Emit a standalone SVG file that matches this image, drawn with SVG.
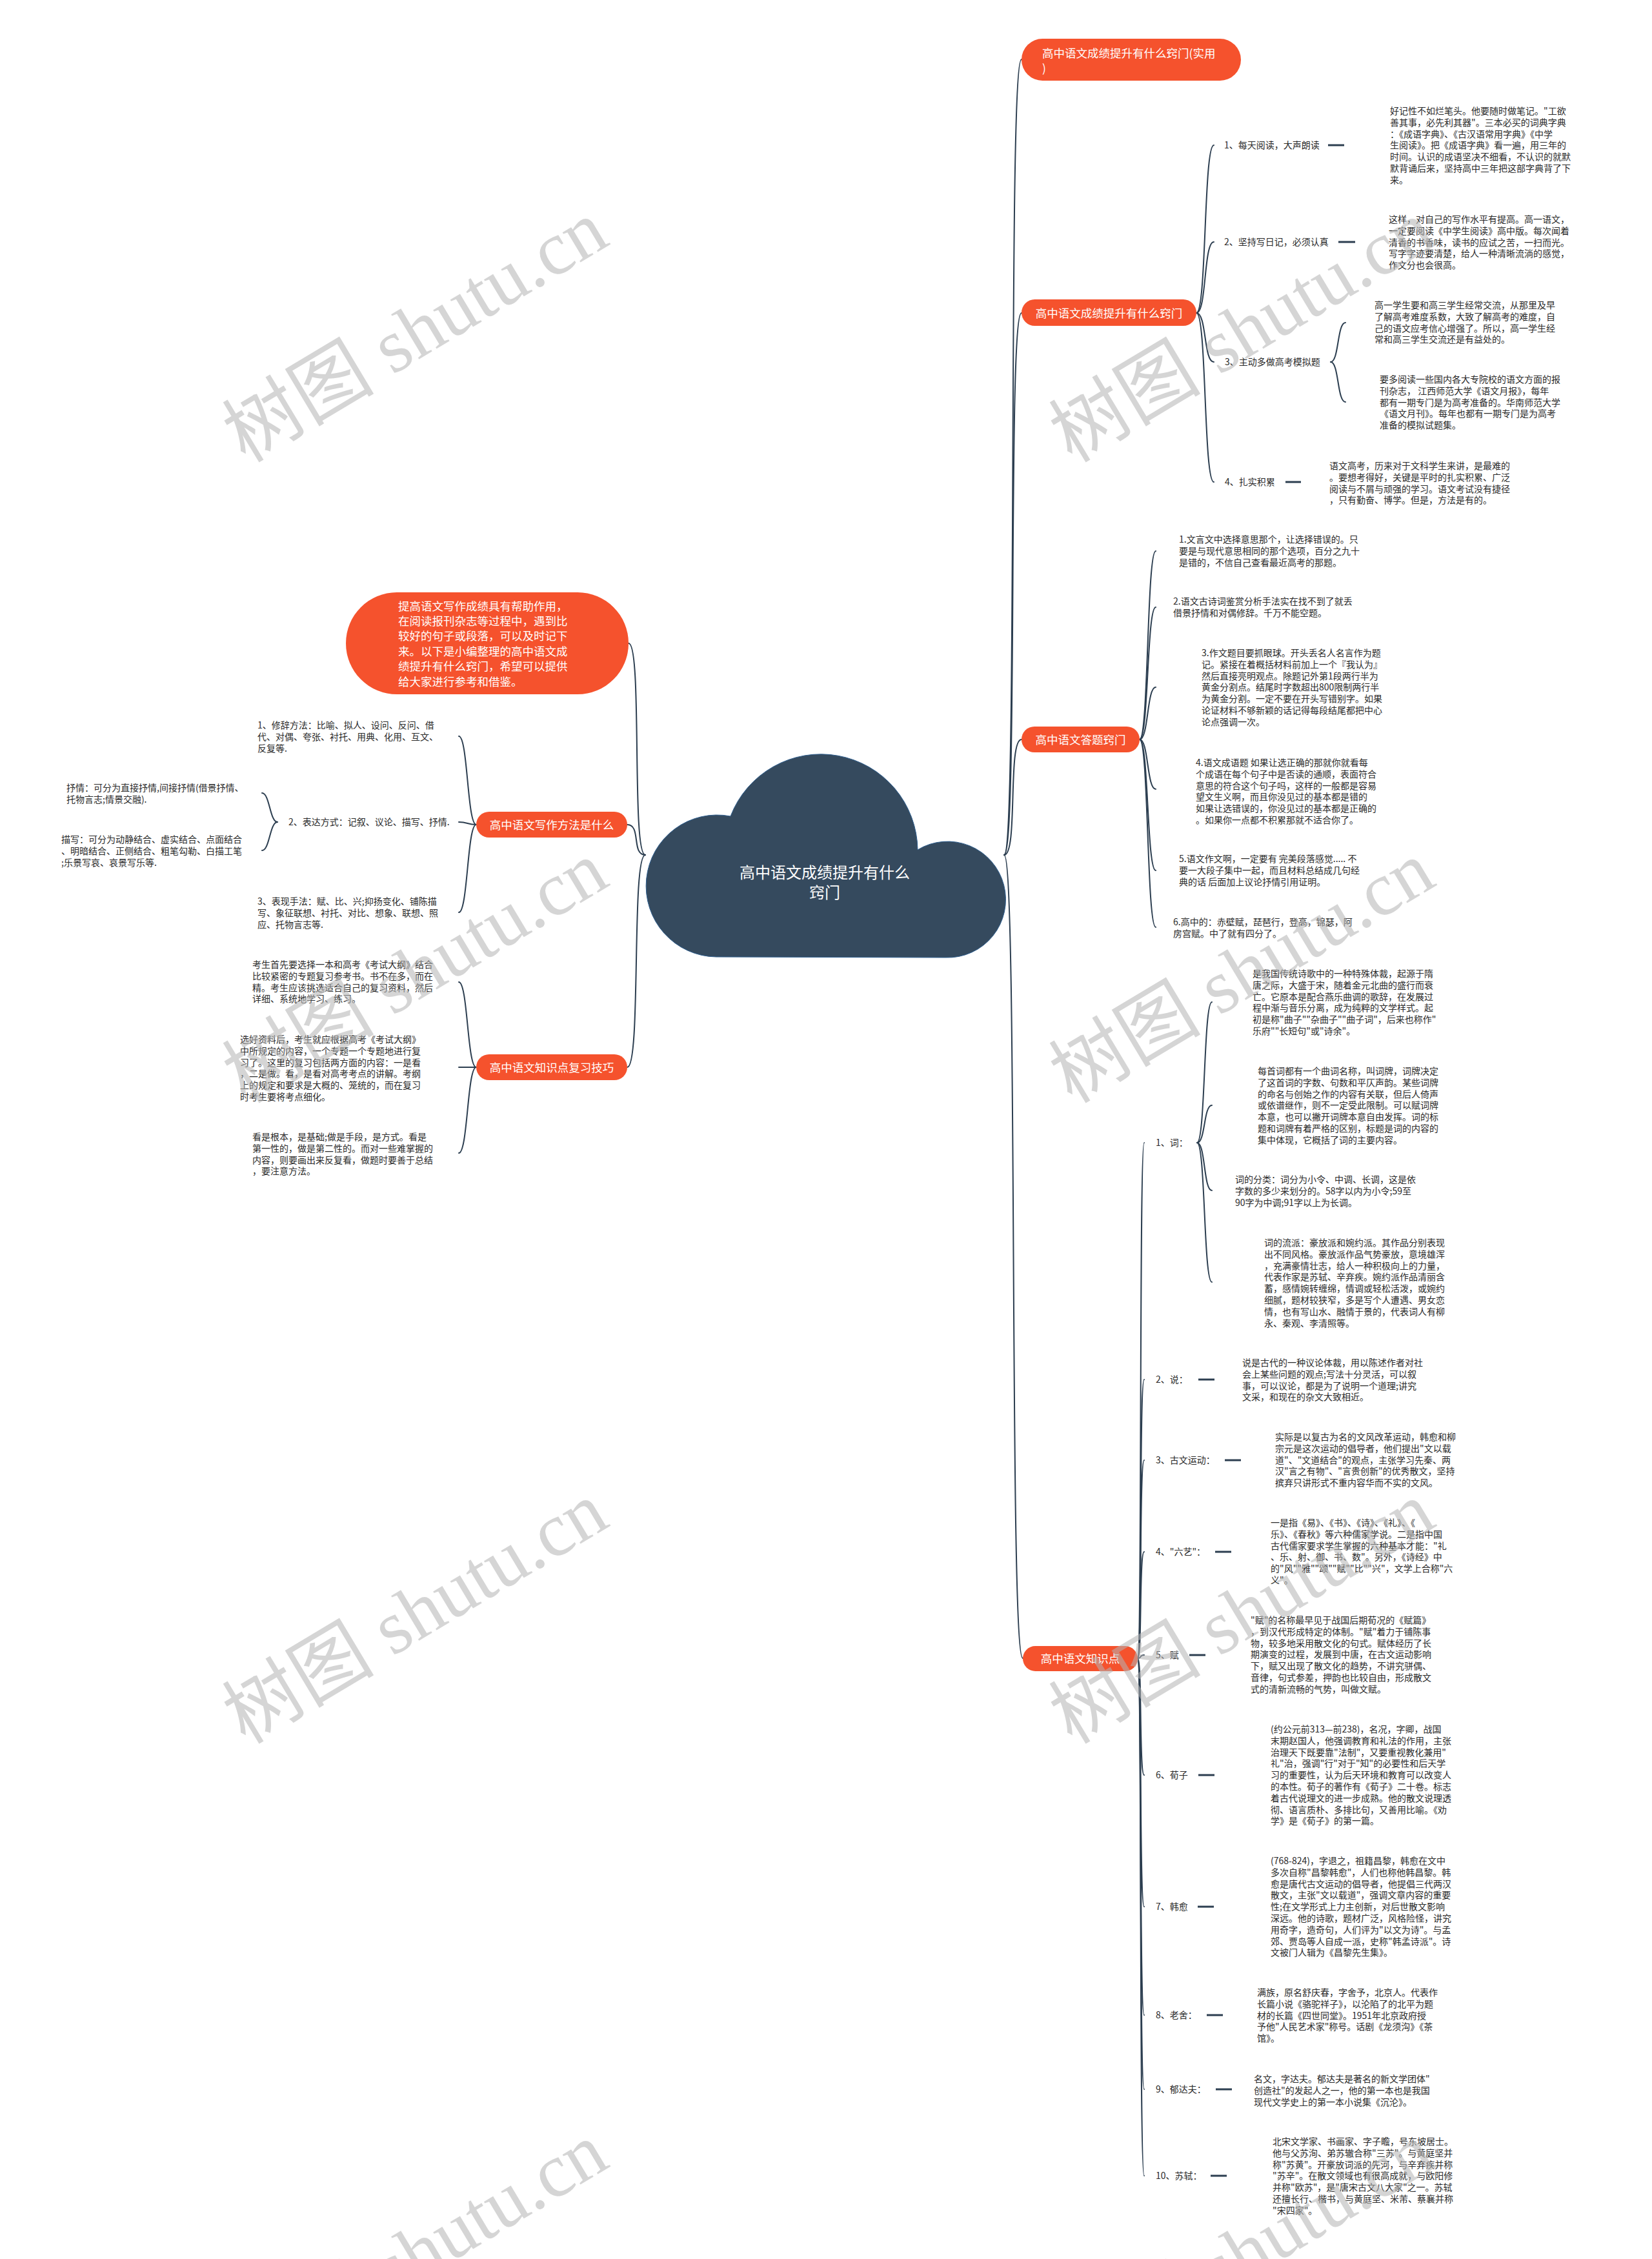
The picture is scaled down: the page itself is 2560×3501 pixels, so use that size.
<svg xmlns="http://www.w3.org/2000/svg" width="2560" height="3501" viewBox="0 0 2560 3501">
<style>
.t{font-family:"Noto Sans CJK SC","Noto Sans",sans-serif;font-size:14px;fill:#2a2a2a}
.nt{font-family:"Noto Sans CJK SC","Noto Sans",sans-serif;font-size:17.5px;fill:#ffffff}
.ct{font-family:"Noto Sans CJK SC","Noto Sans",sans-serif;font-size:24px;fill:#ffffff}
.node{fill:#f5522d}
.link{fill:none;stroke:#2c3e50;stroke-width:2;stroke-linecap:round}
.dash{stroke:#2c3e50;stroke-width:3}
.wm{font-family:"Liberation Serif","Noto Sans CJK SC",serif;font-size:118px;fill:#b4b4b4;opacity:0.55}
</style>
<rect x="0" y="0" width="2560" height="3501" fill="#ffffff"/>

<g id="connectors">
<!-- cloud to right branches -->
<path class="link" d="M1556 1325 C1578 1325 1561 92 1583 92"/>
<path class="link" d="M1556 1325 C1578 1325 1561 485 1583 485"/>
<path class="link" d="M1556 1325 C1578 1325 1561 1146 1583 1146"/>
<path class="link" d="M1556 1325 C1578 1325 1563 2570 1585 2570"/>
<!-- cloud to left branches -->
<path class="link" d="M1000 1325 C978 1325 996 997 974 997"/>
<path class="link" d="M1000 1325 C978 1325 994 1278 972 1278"/>
<path class="link" d="M1000 1325 C978 1325 994 1654 972 1654"/>
<!-- branch B -->
<path class="link" d="M1854 485 C1870 485 1865 225 1881 225"/>
<path class="link" d="M1854 485 C1870 485 1865 375 1881 375"/>
<path class="link" d="M1854 485 C1870 485 1865 561 1881 561"/>
<path class="link" d="M1854 485 C1870 485 1865 747 1881 747"/>
<line class="dash" x1="2058" y1="225" x2="2083" y2="225"/>
<line class="dash" x1="2074" y1="375" x2="2100" y2="375"/>
<path class="link" d="M2062 561 C2075 561 2072 500 2085 500"/>
<path class="link" d="M2062 561 C2075 561 2072 623 2085 623"/>
<line class="dash" x1="1992" y1="747" x2="2016" y2="747"/>
<!-- branch C -->
<path class="link" d="M1766 1146 C1780 1146 1777 854 1791 854"/>
<path class="link" d="M1766 1146 C1780 1146 1777 941 1791 941"/>
<path class="link" d="M1766 1146 C1780 1146 1777 1065 1791 1065"/>
<path class="link" d="M1766 1146 C1780 1146 1777 1223 1791 1223"/>
<path class="link" d="M1766 1146 C1780 1146 1777 1349 1791 1349"/>
<path class="link" d="M1766 1146 C1780 1146 1777 1437 1791 1437"/>
<!-- branch D -->
<path class="link" d="M1763 2570 C1770 2570 1765 1771 1773 1771"/>
<path class="link" d="M1763 2570 C1770 2570 1765 2138 1773 2138"/>
<path class="link" d="M1763 2570 C1770 2570 1765 2263 1773 2263"/>
<path class="link" d="M1763 2570 C1770 2570 1765 2405 1773 2405"/>
<path class="link" d="M1763 2570 C1770 2570 1765 2565 1773 2565"/>
<path class="link" d="M1763 2570 C1770 2570 1765 2751 1773 2751"/>
<path class="link" d="M1763 2570 C1770 2570 1765 2955 1773 2955"/>
<path class="link" d="M1763 2570 C1770 2570 1765 3123 1773 3123"/>
<path class="link" d="M1763 2570 C1770 2570 1765 3238 1773 3238"/>
<path class="link" d="M1763 2570 C1770 2570 1765 3372 1773 3372"/>
<path class="link" d="M1855 1771 C1868 1771 1865 1553 1878 1553"/>
<path class="link" d="M1855 1771 C1868 1771 1865 1713 1878 1713"/>
<path class="link" d="M1855 1771 C1868 1771 1865 1845 1878 1845"/>
<path class="link" d="M1855 1771 C1868 1771 1865 1987 1878 1987"/>
<line class="dash" x1="1857" y1="2138" x2="1882" y2="2138"/>
<line class="dash" x1="1898" y1="2263" x2="1923" y2="2263"/>
<line class="dash" x1="1883" y1="2405" x2="1908" y2="2405"/>
<line class="dash" x1="1843" y1="2565" x2="1868" y2="2565"/>
<line class="dash" x1="1857" y1="2751" x2="1882" y2="2751"/>
<line class="dash" x1="1856" y1="2955" x2="1881" y2="2955"/>
<line class="dash" x1="1870" y1="3123" x2="1895" y2="3123"/>
<line class="dash" x1="1884" y1="3238" x2="1909" y2="3238"/>
<line class="dash" x1="1876" y1="3372" x2="1901" y2="3372"/>
<!-- branch E -->
<path class="link" d="M738 1278 C724 1278 725 1141 711 1141"/>
<path class="link" d="M738 1278 C724 1278 725 1274 711 1274"/>
<path class="link" d="M738 1278 C724 1278 725 1414 711 1414"/>
<path class="link" d="M430 1274 C418 1274 418 1229 406 1229"/>
<path class="link" d="M430 1274 C418 1274 418 1318 406 1318"/>
<!-- branch F -->
<path class="link" d="M738 1654 C724 1654 725 1522 711 1522"/>
<path class="link" d="M738 1654 C724 1654 725 1654 711 1654"/>
<path class="link" d="M738 1654 C724 1654 725 1787 711 1787"/>
</g>

<g id="root">
<path d="M1110 1483 A110 110 0 1 1 1132 1265 A150 150 0 0 1 1422 1317 A90 90 0 1 1 1465 1484 Z" fill="#354a5e" stroke="#2f5f8f" stroke-width="1"/>
<text class="ct" text-anchor="middle"><tspan x="1278" y="1361">高中语文成绩提升有什么</tspan><tspan x="1278" y="1392">窍门</tspan></text>
</g>

<g id="intro">
<rect class="node" x="536" y="918" width="438" height="158" rx="79"/>
<text class="nt"><tspan x="617" y="945.5">提高语文写作成绩具有帮助作用，</tspan><tspan x="617" y="968.9">在阅读报刊杂志等过程中，遇到比</tspan><tspan x="617" y="992.3">较好的句子或段落，可以及时记下</tspan><tspan x="617" y="1015.7">来。以下是小编整理的高中语文成</tspan><tspan x="617" y="1039.1">绩提升有什么窍门，希望可以提供</tspan><tspan x="617" y="1062.5">给大家进行参考和借鉴。</tspan></text>
</g>

<g id="node-a">
<rect class="node" x="1583" y="60" width="340" height="65" rx="32.5"/>
<text class="nt"><tspan x="1615" y="88.5">高中语文成绩提升有什么窍门(实用</tspan><tspan x="1615" y="111.5">)</tspan></text>
</g>

<g id="node-b">
<rect class="node" x="1583" y="464" width="271" height="41" rx="20.5"/>
<text class="nt" x="1718.5" y="491.5" text-anchor="middle">高中语文成绩提升有什么窍门</text>
</g>
<g id="b1">
<text class="t" x="1897" y="230">1、每天阅读，大声朗读</text>
<text class="t"><tspan x="2154" y="177">好记性不如烂笔头。他要随时做笔记。"工欲</tspan><tspan x="2154" y="194.8">善其事，必先利其器"。三本必买的词典字典</tspan><tspan x="2154" y="212.6">：《成语字典》、《古汉语常用字典》《中学</tspan><tspan x="2154" y="230.4">生阅读》。把《成语字典》看一遍，用三年的</tspan><tspan x="2154" y="248.2">时间。认识的成语坚决不细看，不认识的就默</tspan><tspan x="2154" y="266">默背诵后来，坚持高中三年把这部字典背了下</tspan><tspan x="2154" y="283.8">来。</tspan></text>
</g>
<g id="b2">
<text class="t" x="1897" y="380">2、坚持写日记，必须认真</text>
<text class="t"><tspan x="2152" y="345">这样，对自己的写作水平有提高。高一语文，</tspan><tspan x="2152" y="362.8">一定要阅读《中学生阅读》高中版。每次闻着</tspan><tspan x="2152" y="380.6">清香的书香味，读书的应试之苦，一扫而光。</tspan><tspan x="2152" y="398.4">写字字迹要清楚，给人一种清晰流淌的感觉，</tspan><tspan x="2152" y="416.2">作文分也会很高。</tspan></text>
</g>
<g id="b3">
<text class="t" x="1898" y="566">3、主动多做高考模拟题</text>
<text class="t"><tspan x="2130" y="478">高一学生要和高三学生经常交流，从那里及早</tspan><tspan x="2130" y="495.8">了解高考难度系数，大致了解高考的难度，自</tspan><tspan x="2130" y="513.6">己的语文应考信心增强了。所以，高一学生经</tspan><tspan x="2130" y="531.4">常和高三学生交流还是有益处的。</tspan></text>
<text class="t"><tspan x="2138" y="593">要多阅读一些国内各大专院校的语文方面的报</tspan><tspan x="2138" y="610.8">刊杂志， 江西师范大学《语文月报》，每年</tspan><tspan x="2138" y="628.6">都有一期专门是为高考准备的。华南师范大学</tspan><tspan x="2138" y="646.4">《语文月刊》。每年也都有一期专门是为高考</tspan><tspan x="2138" y="664.2">准备的模拟试题集。</tspan></text>
</g>
<g id="b4">
<text class="t" x="1898" y="752">4、扎实积累</text>
<text class="t"><tspan x="2060" y="727">语文高考，历来对于文科学生来讲，是最难的</tspan><tspan x="2060" y="744.8">。要想考得好，关键是平时的扎实积累、广泛</tspan><tspan x="2060" y="762.6">阅读与不屑与顽强的学习。语文考试没有捷径</tspan><tspan x="2060" y="780.4">，只有勤奋、博学。但是，方法是有的。</tspan></text>
</g>

<g id="node-c">
<rect class="node" x="1583" y="1126" width="183" height="40" rx="20"/>
<text class="nt" x="1674.5" y="1152.5" text-anchor="middle">高中语文答题窍门</text>
</g>
<g id="c1"><text class="t"><tspan x="1827" y="841">1.文言文中选择意思那个，让选择错误的。只</tspan><tspan x="1827" y="858.8">要是与现代意思相同的那个选项，百分之九十</tspan><tspan x="1827" y="876.6">是错的，不信自己查看最近高考的那题。</tspan></text></g>
<g id="c2"><text class="t"><tspan x="1818" y="937">2.语文古诗词鉴赏分析手法实在找不到了就丢</tspan><tspan x="1818" y="954.8">借景抒情和对偶修辞。千万不能空题。</tspan></text></g>
<g id="c3"><text class="t"><tspan x="1862" y="1017">3.作文题目要抓眼球。开头丢名人名言作为题</tspan><tspan x="1862" y="1034.8">记。紧接在着概括材料前加上一个『我认为』</tspan><tspan x="1862" y="1052.6">然后直接亮明观点。除题记外第1段两行半为</tspan><tspan x="1862" y="1070.4">黄金分割点。结尾时字数超出800限制两行半</tspan><tspan x="1862" y="1088.2">为黄金分割。一定不要在开头写错别字。如果</tspan><tspan x="1862" y="1106">论证材料不够新颖的话记得每段结尾都把中心</tspan><tspan x="1862" y="1123.8">论点强调一次。</tspan></text></g>
<g id="c4"><text class="t"><tspan x="1853" y="1187">4.语文成语题 如果让选正确的那就你就看每</tspan><tspan x="1853" y="1204.8">个成语在每个句子中是否读的通顺，表面符合</tspan><tspan x="1853" y="1222.6">意思的符合这个句子吗，这样的一般都是容易</tspan><tspan x="1853" y="1240.4">望文生义啊，而且你没见过的基本都是错的</tspan><tspan x="1853" y="1258.2">如果让选错误的，你没见过的基本都是正确的</tspan><tspan x="1853" y="1276">。如果你一点都不积累那就不适合你了。</tspan></text></g>
<g id="c5"><text class="t"><tspan x="1827" y="1336">5.语文作文啊，一定要有 完美段落感觉..... 不</tspan><tspan x="1827" y="1353.8">要一大段子集中一起，而且材料总结成几句经</tspan><tspan x="1827" y="1371.6">典的话 后面加上议论抒情引用证明。</tspan></text></g>
<g id="c6"><text class="t"><tspan x="1818" y="1434">6.高中的：赤壁赋，琵琶行，登高，锦瑟，阿</tspan><tspan x="1818" y="1451.8">房宫赋。中了就有四分了。</tspan></text></g>

<g id="node-d">
<rect class="node" x="1585" y="2551" width="178" height="39" rx="19.5"/>
<text class="nt" x="1674" y="2577" text-anchor="middle">高中语文知识点</text>
</g>
<g id="d1">
<text class="t" x="1791" y="1776">1、词：</text>
<text class="t"><tspan x="1941" y="1514">是我国传统诗歌中的一种特殊体裁，起源于隋</tspan><tspan x="1941" y="1531.8">唐之际，大盛于宋，随着金元北曲的盛行而衰</tspan><tspan x="1941" y="1549.6">亡。它原本是配合燕乐曲调的歌辞，在发展过</tspan><tspan x="1941" y="1567.4">程中渐与音乐分离，成为纯粹的文学样式。起</tspan><tspan x="1941" y="1585.2">初是称"曲子""杂曲子""曲子词"，后来也称作"</tspan><tspan x="1941" y="1603">乐府""长短句"或"诗余"。</tspan></text>
<text class="t"><tspan x="1949" y="1665">每首词都有一个曲词名称，叫词牌，词牌决定</tspan><tspan x="1949" y="1682.8">了这首词的字数、句数和平仄声韵。某些词牌</tspan><tspan x="1949" y="1700.6">的命名与创始之作的内容有关联，但后人倚声</tspan><tspan x="1949" y="1718.4">或依谱继作，则不一定受此限制。可以赋词牌</tspan><tspan x="1949" y="1736.2">本意，也可以撇开词牌本意自由发挥。词的标</tspan><tspan x="1949" y="1754">题和词牌有着严格的区别，标题是词的内容的</tspan><tspan x="1949" y="1771.8">集中体现，它概括了词的主要内容。</tspan></text>
<text class="t"><tspan x="1914" y="1833">词的分类：词分为小令、中调、长调，这是依</tspan><tspan x="1914" y="1850.8">字数的多少来划分的。58字以内为小令;59至</tspan><tspan x="1914" y="1868.6">90字为中调;91字以上为长调。</tspan></text>
<text class="t"><tspan x="1959" y="1931">词的流派：豪放派和婉约派。其作品分别表现</tspan><tspan x="1959" y="1948.8">出不同风格。豪放派作品气势豪放，意境雄浑</tspan><tspan x="1959" y="1966.6">，充满豪情壮志，给人一种积极向上的力量，</tspan><tspan x="1959" y="1984.4">代表作家是苏轼、辛弃疾。婉约派作品清丽含</tspan><tspan x="1959" y="2002.2">蓄，感情婉转缠绵，情调或轻松活泼，或婉约</tspan><tspan x="1959" y="2020">细腻，题材较狭窄，多是写个人遭遇、男女恋</tspan><tspan x="1959" y="2037.8">情，也有写山水、融情于景的，代表词人有柳</tspan><tspan x="1959" y="2055.6">永、秦观、李清照等。</tspan></text>
</g>
<g id="d2">
<text class="t" x="1791" y="2143">2、说：</text>
<text class="t"><tspan x="1925" y="2117">说是古代的一种议论体裁，用以陈述作者对社</tspan><tspan x="1925" y="2134.8">会上某些问题的观点;写法十分灵活，可以叙</tspan><tspan x="1925" y="2152.6">事，可以议论，都是为了说明一个道理;讲究</tspan><tspan x="1925" y="2170.4">文采，和现在的杂文大致相近。</tspan></text>
</g>
<g id="d3">
<text class="t" x="1791" y="2268">3、古文运动：</text>
<text class="t"><tspan x="1976" y="2232">实际是以复古为名的文风改革运动，韩愈和柳</tspan><tspan x="1976" y="2249.8">宗元是这次运动的倡导者，他们提出"文以载</tspan><tspan x="1976" y="2267.6">道"、"文道结合"的观点，主张学习先秦、两</tspan><tspan x="1976" y="2285.4">汉"言之有物"、"言贵创新"的优秀散文，坚持</tspan><tspan x="1976" y="2303.2">摈弃只讲形式不重内容华而不实的文风。</tspan></text>
</g>
<g id="d4">
<text class="t" x="1791" y="2410">4、"六艺"：</text>
<text class="t"><tspan x="1969" y="2365">一是指《易》、《书》、《诗》、《礼》、《</tspan><tspan x="1969" y="2382.8">乐》、《春秋》等六种儒家学说。二是指中国</tspan><tspan x="1969" y="2400.6">古代儒家要求学生掌握的六种基本才能："礼</tspan><tspan x="1969" y="2418.4">、乐、射、御、书、数"。另外，《诗经》中</tspan><tspan x="1969" y="2436.2">的"风""雅""颂""赋""比""兴"，文学上合称"六</tspan><tspan x="1969" y="2454">义"。</tspan></text>
</g>
<g id="d5">
<text class="t" x="1791" y="2570">5、赋</text>
<text class="t"><tspan x="1938" y="2516">"赋"的名称最早见于战国后期荀况的《赋篇》</tspan><tspan x="1938" y="2533.8">，到汉代形成特定的体制。"赋"着力于铺陈事</tspan><tspan x="1938" y="2551.6">物，较多地采用散文化的句式。赋体经历了长</tspan><tspan x="1938" y="2569.4">期演变的过程，发展到中唐，在古文运动影响</tspan><tspan x="1938" y="2587.2">下，赋又出现了散文化的趋势，不讲究骈偶、</tspan><tspan x="1938" y="2605">音律，句式参差，押韵也比较自由，形成散文</tspan><tspan x="1938" y="2622.8">式的清新流畅的气势，叫做文赋。</tspan></text>
</g>
<g id="d6">
<text class="t" x="1791" y="2756">6、荀子</text>
<text class="t"><tspan x="1969" y="2685">(约公元前313—前238)，名况，字卿，战国</tspan><tspan x="1969" y="2702.8">末期赵国人，他强调教育和礼法的作用，主张</tspan><tspan x="1969" y="2720.6">治理天下既要靠"法制"，又要重视教化兼用"</tspan><tspan x="1969" y="2738.4">礼"治，强调"行"对于"知"的必要性和后天学</tspan><tspan x="1969" y="2756.2">习的重要性，认为后天环境和教育可以改变人</tspan><tspan x="1969" y="2774">的本性。荀子的著作有《荀子》二十卷。标志</tspan><tspan x="1969" y="2791.8">着古代说理文的进一步成熟。他的散文说理透</tspan><tspan x="1969" y="2809.6">彻、语言质朴、多排比句，又善用比喻。《劝</tspan><tspan x="1969" y="2827.4">学》是《荀子》的第一篇。</tspan></text>
</g>
<g id="d7">
<text class="t" x="1791" y="2960">7、韩愈</text>
<text class="t"><tspan x="1969" y="2889">(768-824)，字退之，祖籍昌黎，韩愈在文中</tspan><tspan x="1969" y="2906.8">多次自称"昌黎韩愈"，人们也称他韩昌黎。韩</tspan><tspan x="1969" y="2924.6">愈是唐代古文运动的倡导者，他提倡三代两汉</tspan><tspan x="1969" y="2942.4">散文，主张"文以载道"，强调文章内容的重要</tspan><tspan x="1969" y="2960.2">性;在文学形式上力主创新，对后世散文影响</tspan><tspan x="1969" y="2978">深远。他的诗歌，题材广泛，风格险怪，讲究</tspan><tspan x="1969" y="2995.8">用奇字，造奇句，人们评为"以文为诗"。与孟</tspan><tspan x="1969" y="3013.6">郊、贾岛等人自成一派，史称"韩孟诗派"。诗</tspan><tspan x="1969" y="3031.4">文被门人辑为《昌黎先生集》。</tspan></text>
</g>
<g id="d8">
<text class="t" x="1791" y="3128">8、老舍：</text>
<text class="t"><tspan x="1948" y="3093">满族，原名舒庆春，字舍予，北京人。代表作</tspan><tspan x="1948" y="3110.8">长篇小说《骆驼祥子》，以沦陷了的北平为题</tspan><tspan x="1948" y="3128.6">材的长篇《四世同堂》。1951年北京政府授</tspan><tspan x="1948" y="3146.4">予他"人民艺术家"称号。话剧《龙须沟》《茶</tspan><tspan x="1948" y="3164.2">馆》。</tspan></text>
</g>
<g id="d9">
<text class="t" x="1791" y="3243">9、郁达夫：</text>
<text class="t"><tspan x="1943" y="3227">名文，字达夫。郁达夫是著名的新文学团体"</tspan><tspan x="1943" y="3244.8">创造社"的发起人之一，他的第一本也是我国</tspan><tspan x="1943" y="3262.6">现代文学史上的第一本小说集《沉沦》。</tspan></text>
</g>
<g id="d10">
<text class="t" x="1791" y="3377">10、苏轼：</text>
<text class="t"><tspan x="1972" y="3324">北宋文学家、书画家、字子瞻，号东坡居士。</tspan><tspan x="1972" y="3341.8">他与父苏洵、弟苏辙合称"三苏"。与黄庭坚并</tspan><tspan x="1972" y="3359.6">称"苏黄"。开豪放词派的先河，与辛弃疾并称</tspan><tspan x="1972" y="3377.4">"苏辛"。在散文领域也有很高成就，与欧阳修</tspan><tspan x="1972" y="3395.2">并称"欧苏"，是"唐宋古文八大家"之一。苏轼</tspan><tspan x="1972" y="3413">还擅长行、楷书，与黄庭坚、米芾、蔡襄并称</tspan><tspan x="1972" y="3430.8">"宋四家"。</tspan></text>
</g>

<g id="node-e">
<rect class="node" x="738" y="1258" width="234" height="40" rx="20"/>
<text class="nt" x="855" y="1284.5" text-anchor="middle">高中语文写作方法是什么</text>
</g>
<g id="e1"><text class="t"><tspan x="399" y="1129">1、修辞方法：比喻、拟人、设问、反问、借</tspan><tspan x="399" y="1146.8">代、对偶、夸张、衬托、用典、化用、互文、</tspan><tspan x="399" y="1164.6">反复等.</tspan></text></g>
<g id="e2"><text class="t" x="447" y="1279">2、表达方式：记叙、议论、描写、抒情.</text></g>
<g id="e2a"><text class="t"><tspan x="103" y="1226">抒情：可分为直接抒情,间接抒情(借景抒情、</tspan><tspan x="103" y="1243.8">托物言志;情景交融).</tspan></text></g>
<g id="e2b"><text class="t"><tspan x="95" y="1306">描写：可分为动静结合、虚实结合、点面结合</tspan><tspan x="95" y="1323.8">、明暗结合、正侧结合、粗笔勾勒、白描工笔</tspan><tspan x="95" y="1341.6">;乐景写哀、哀景写乐等.</tspan></text></g>
<g id="e3"><text class="t"><tspan x="399" y="1402">3、表现手法：赋、比、兴;抑扬变化、铺陈描</tspan><tspan x="399" y="1419.8">写、象征联想、衬托、对比、想象、联想、照</tspan><tspan x="399" y="1437.6">应、托物言志等.</tspan></text></g>

<g id="node-f">
<rect class="node" x="738" y="1634" width="234" height="40" rx="20"/>
<text class="nt" x="855" y="1660.5" text-anchor="middle">高中语文知识点复习技巧</text>
</g>
<g id="f1"><text class="t"><tspan x="391" y="1500">考生首先要选择一本和高考《考试大纲》结合</tspan><tspan x="391" y="1517.8">比较紧密的专题复习参考书。书不在多，而在</tspan><tspan x="391" y="1535.6">精。考生应该挑选适合自己的复习资料，然后</tspan><tspan x="391" y="1553.4">详细、系统地学习、练习。</tspan></text></g>
<g id="f2"><text class="t"><tspan x="372" y="1616">选好资料后，考生就应根据高考《考试大纲》</tspan><tspan x="372" y="1633.8">中所规定的内容，一个专题一个专题地进行复</tspan><tspan x="372" y="1651.6">习了。这里的复习包括两方面的内容：一是看</tspan><tspan x="372" y="1669.4">，二是做。看，是看对高考考点的讲解。考纲</tspan><tspan x="372" y="1687.2">上的规定和要求是大概的、笼统的，而在复习</tspan><tspan x="372" y="1705">时考生要将考点细化。</tspan></text></g>
<g id="f3"><text class="t"><tspan x="391" y="1767">看是根本，是基础;做是手段，是方式。看是</tspan><tspan x="391" y="1784.8">第一性的，做是第二性的。而对一些难掌握的</tspan><tspan x="391" y="1802.6">内容，则要画出来反复看，做题时要善于总结</tspan><tspan x="391" y="1820.4">，要注意方法。</tspan></text></g>

<g id="watermarks">
<text class="wm" text-anchor="middle" transform="translate(646,518) rotate(-31)" y="35">树图 shutu.cn</text>
<text class="wm" text-anchor="middle" transform="translate(1927,518) rotate(-31)" y="35">树图 shutu.cn</text>
<text class="wm" text-anchor="middle" transform="translate(646,1511) rotate(-31)" y="35">树图 shutu.cn</text>
<text class="wm" text-anchor="middle" transform="translate(1927,1511) rotate(-31)" y="35">树图 shutu.cn</text>
<text class="wm" text-anchor="middle" transform="translate(646,2504) rotate(-31)" y="35">树图 shutu.cn</text>
<text class="wm" text-anchor="middle" transform="translate(1927,2504) rotate(-31)" y="35">树图 shutu.cn</text>
<text class="wm" text-anchor="middle" transform="translate(646,3497) rotate(-31)" y="35">树图 shutu.cn</text>
<text class="wm" text-anchor="middle" transform="translate(1927,3497) rotate(-31)" y="35">树图 shutu.cn</text>
</g>
</svg>
